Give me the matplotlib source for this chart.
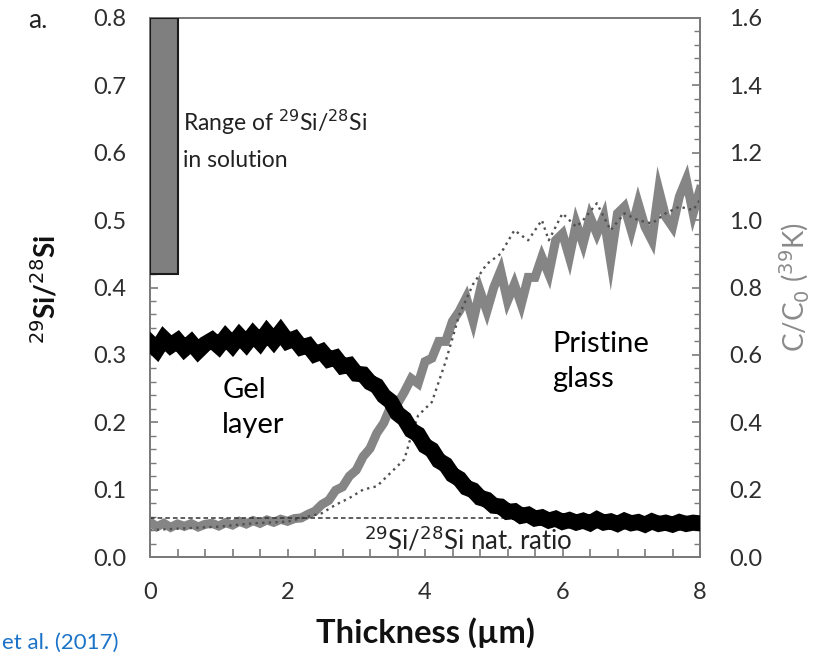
import numpy as np
import matplotlib
matplotlib.use("Agg")
import matplotlib.pyplot as plt
from matplotlib.patches import Rectangle
from matplotlib.ticker import MultipleLocator

plt.rcParams['font.family'] = ['Lato', 'DejaVu Sans']

# ---------------- data ----------------
thickness = np.round(np.arange(0, 8.01, 0.1), 2)

si_ratio = [0.318, 0.308, 0.324, 0.314, 0.321, 0.309, 0.318, 0.306, 0.316, 0.322,
            0.313, 0.326, 0.315, 0.328, 0.317, 0.330, 0.319, 0.333, 0.321, 0.334,
            0.320, 0.324, 0.311, 0.314, 0.301, 0.305, 0.293, 0.296, 0.283, 0.285,
            0.272, 0.271, 0.259, 0.254, 0.239, 0.231, 0.213, 0.205, 0.188, 0.182,
            0.165, 0.159, 0.143, 0.137, 0.122, 0.116, 0.103, 0.099, 0.088, 0.085,
            0.076, 0.075, 0.067, 0.068, 0.061, 0.063, 0.057, 0.059, 0.054, 0.057,
            0.052, 0.055, 0.051, 0.054, 0.050, 0.056, 0.051, 0.053, 0.049, 0.054,
            0.050, 0.052, 0.048, 0.053, 0.049, 0.051, 0.048, 0.052, 0.049, 0.051,
            0.050]

k_conc = [0.104, 0.090, 0.100, 0.088, 0.098, 0.091, 0.099, 0.089, 0.097, 0.100,
          0.092, 0.102, 0.095, 0.106, 0.098, 0.108, 0.100, 0.110, 0.103, 0.112,
          0.106, 0.114, 0.116, 0.127, 0.136, 0.156, 0.168, 0.198, 0.208, 0.240,
          0.258, 0.298, 0.322, 0.368, 0.398, 0.446, 0.455, 0.490, 0.530, 0.515,
          0.580, 0.590, 0.640, 0.640, 0.700, 0.730, 0.770, 0.700, 0.790, 0.730,
          0.800, 0.850, 0.760, 0.810, 0.750, 0.830, 0.830, 0.890, 0.840, 0.940,
          0.960, 0.890, 0.990, 0.930, 1.010, 0.960, 1.010, 0.880, 1.020, 1.040,
          0.970, 1.050, 0.980, 0.940, 1.090, 1.010, 0.980, 1.070, 1.120, 1.020,
          1.090]

dot_x = [0.0, 0.5, 1.0, 1.5, 2.0, 2.3, 2.5, 2.7, 2.9, 3.1, 3.3, 3.5, 3.7, 3.8, 3.9,
         4.1, 4.3, 4.5, 4.7, 4.9, 5.1, 5.3, 5.5, 5.7, 5.8, 6.0, 6.2, 6.3, 6.5, 6.7,
         6.9, 7.1, 7.3, 7.5, 7.7, 7.9, 8.0]
dot_y = [0.08, 0.085, 0.09, 0.10, 0.105, 0.12, 0.13, 0.155, 0.175, 0.20, 0.21, 0.25,
         0.29, 0.36, 0.42, 0.46, 0.58, 0.72, 0.81, 0.87, 0.90, 0.97, 0.94, 1.00,
         0.94, 1.02, 0.98, 1.00, 1.05, 0.97, 1.02, 1.00, 0.99, 1.02, 1.04, 1.03, 1.06]

nat_ratio = 0.058
range_x = (0.0, 0.4)
range_y = (0.42, 0.80)

x_ticks = [0, 2, 4, 6, 8]
left_ticks = [0.0, 0.1, 0.2, 0.3, 0.4, 0.5, 0.6, 0.7, 0.8]
right_ticks = [0.0, 0.2, 0.4, 0.6, 0.8, 1.0, 1.2, 1.4, 1.6]

# ---------------- figure ----------------
fig = plt.figure(figsize=(8.31, 6.55), dpi=100)
ax = fig.add_axes([150/831, (655-557)/655, 550/831, 539/655])
ax2 = ax.twinx()
ax.set_zorder(ax2.get_zorder() + 1)
ax.patch.set_visible(False)

spine_col = '#7a7a7a'
tick_col = '#2e2e2e'

ax.set_xlim(0, 8)
ax.set_ylim(0, 0.8)
ax2.set_ylim(0, 1.6)

# data
ax2.plot(thickness, k_conc, color='#858585', lw=6.5, solid_joinstyle='miter', zorder=2)
ax2.plot(dot_x, dot_y, color='#505050', lw=1.7, ls=(0, (1, 1.8)), zorder=3)
ax.plot(thickness, si_ratio, color='black', lw=11.5, solid_joinstyle='miter', zorder=3)
ax.axhline(nat_ratio, color='#333333', lw=1.1, ls=(0, (3, 2)), zorder=2)

ax.add_patch(Rectangle((range_x[0], range_y[0]), range_x[1]-range_x[0],
                       range_y[1]-range_y[0], facecolor='#7f7f7f',
                       edgecolor='#1a1a1a', lw=1.5, zorder=4))

# ticks
ax.set_xticks(x_ticks)
ax.set_yticks(left_ticks)
ax.set_yticklabels([f'{v:.1f}' for v in left_ticks])
ax2.set_yticks(right_ticks)
ax2.set_yticklabels([f'{v:.1f}' for v in right_ticks])
ax.xaxis.set_minor_locator(MultipleLocator(0.4))
ax.yaxis.set_minor_locator(MultipleLocator(0.02))
ax2.yaxis.set_minor_locator(MultipleLocator(0.04))

for a in (ax, ax2):
    for s in a.spines.values():
        s.set_color(spine_col)
        s.set_linewidth(1.3)
ax.tick_params(axis='both', which='both', direction='in', color=spine_col,
               labelcolor=tick_col, labelsize=17, top=False, right=False)
ax.tick_params(axis='x', which='major', length=6, width=1.2, pad=18)
ax.tick_params(axis='x', which='minor', length=6, width=1.2)
ax.tick_params(axis='y', which='major', length=6, width=1.2, pad=17)
ax.tick_params(axis='y', which='minor', length=4, width=1.0)
ax2.tick_params(axis='y', which='both', direction='in', color=spine_col,
                labelcolor=tick_col, labelsize=17)
ax2.tick_params(axis='y', which='major', length=6, width=1.2, pad=21)
ax2.tick_params(axis='y', which='minor', length=4, width=1.0)

# labels
ax.set_xlabel('Thickness (µm)', fontsize=23.5, fontweight='bold', labelpad=10,
              color='#111111')
fig.text(45/831, 1 - 289/655, r'$^{29}$Si/$^{28}$Si', rotation=90, fontsize=20,
         fontweight='bold', ha='center', va='center', color='#111111')
fig.text(795/831, 1 - 287/655, r'C/C$_0$ ($^{39}$K)', rotation=90, fontsize=20,
         ha='center', va='center', color='#8a8a8a')

# annotations
ax.text(0.48, 0.645, r'Range of $^{29}$Si/$^{28}$Si', fontsize=16.5, ha='left',
        va='center', color='#222222')
ax.text(0.48, 0.589, 'in solution', fontsize=16.5, ha='left', va='center',
        color='#222222')
ax.text(1.05, 0.222, 'Gel\nlayer', fontsize=21, ha='left', va='center',
        linespacing=1.45, color='black')
ax.text(5.85, 0.290, 'Pristine\nglass', fontsize=21, ha='left', va='center',
        linespacing=1.45, color='black')
ax.text(4.63, 0.025, r'$^{29}$Si/$^{28}$Si nat. ratio', fontsize=18.5,
        ha='center', va='center', color='#222222')

fig.text(28/831, 1 - 20/655, 'a.', fontsize=19, ha='left', va='center',
         color='#222222')
fig.text(2/831, 2/655, 'et al. (2017)', fontsize=16, ha='left', va='bottom',
         color='#1a73c8')

fig.savefig('out.png', dpi=100)
